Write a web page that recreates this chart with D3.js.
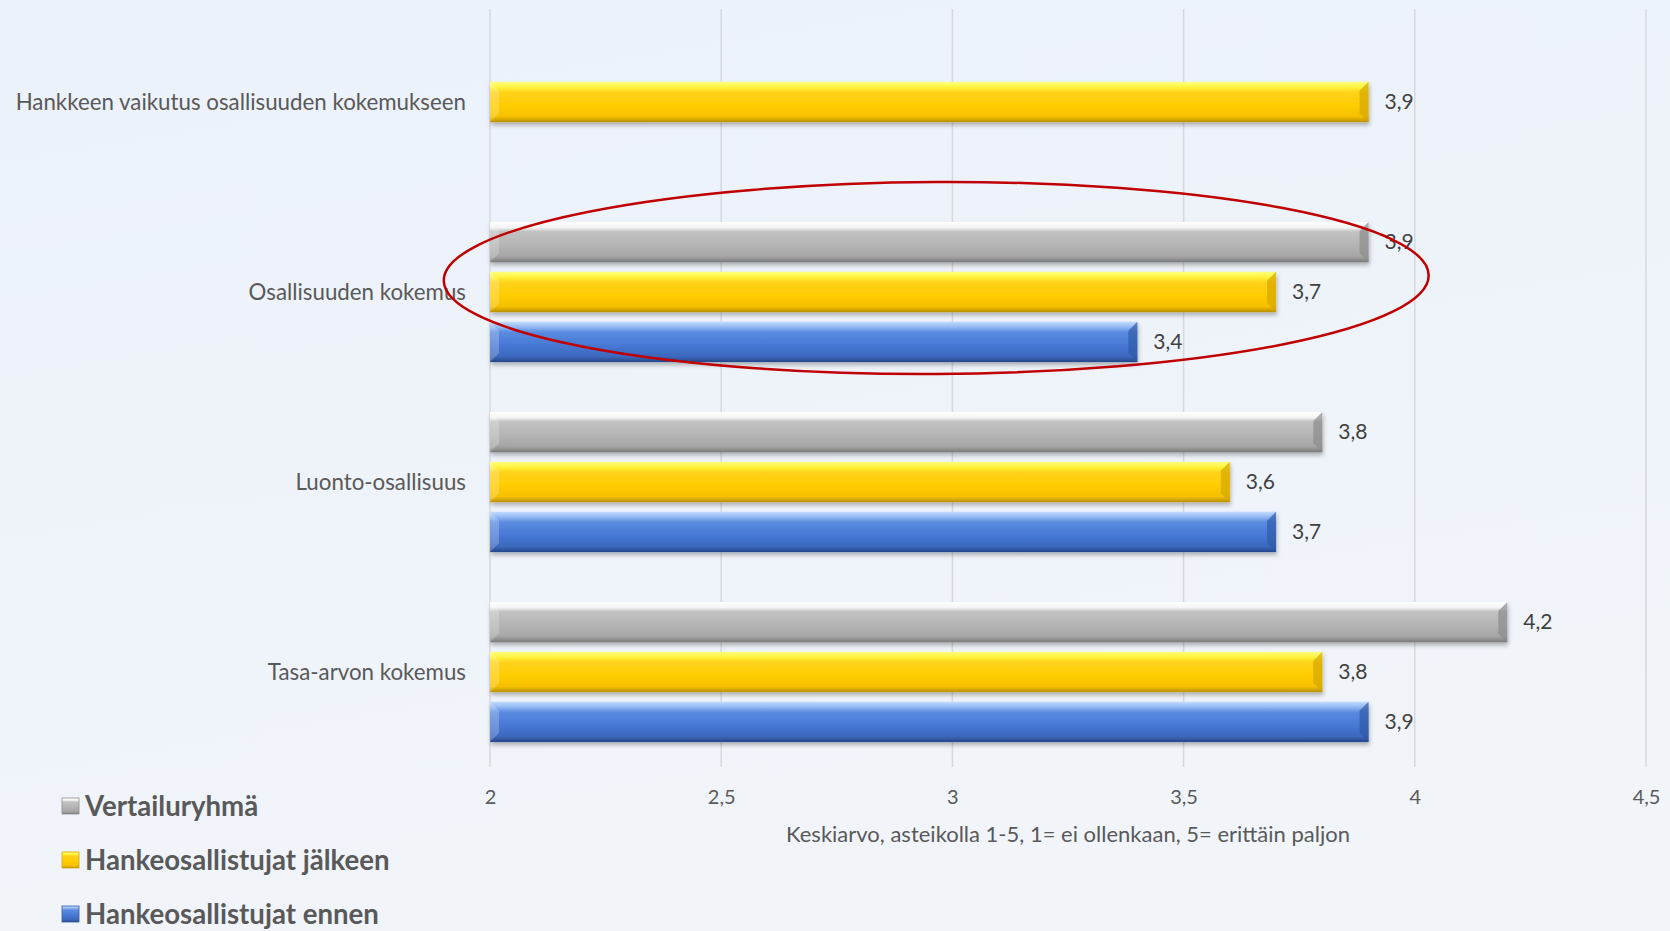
<!DOCTYPE html>
<html>
<head>
<meta charset="utf-8">
<script src="https://cdn.jsdelivr.net/npm/d3@7"></script>
<style>
  html, body { margin: 0; padding: 0; }
  body { width: 1670px; height: 931px; overflow: hidden; }
  svg { display: block; font-family: Lato, "Open Sans", sans-serif; }
</style>
</head>
<body>
<svg id="chart"></svg>
<script>
// categories top -> bottom
var categories = [
  "Hankkeen vaikutus osallisuuden kokemukseen",
  "Osallisuuden kokemus",
  "Luonto-osallisuus",
  "Tasa-arvon kokemus"
];
// series, drawn top -> bottom inside each category
var seriesNames = ["Vertailuryhmä", "Hankeosallistujat jälkeen", "Hankeosallistujat ennen"];
var vertailuryhma = [null, 3.9, 3.8, 4.2];
var jalkeen = [3.9, 3.7, 3.6, 3.8];
var ennen = [null, 3.4, 3.7, 3.9];
var xTicks = [2, 2.5, 3, 3.5, 4, 4.5];
var xTitle = "Keskiarvo, asteikolla 1-5, 1= ei ollenkaan, 5= erittäin paljon";

var W = 1670, H = 931;
var margin = { top: 7, right: 24, bottom: 164, left: 490 };

var svg = d3.select("#chart").attr("width", W).attr("height", H);
var defs = svg.append("defs");

// background
var bg = defs.append("linearGradient").attr("id", "bg")
  .attr("x1", 0).attr("y1", 0).attr("x2", 0.3).attr("y2", 1);
bg.append("stop").attr("offset", "0%").attr("stop-color", "#ecf2fa");
bg.append("stop").attr("offset", "50%").attr("stop-color", "#eef3fa");
bg.append("stop").attr("offset", "100%").attr("stop-color", "#f1f5fa");
svg.append("rect").attr("width", W).attr("height", H).attr("fill", "url(#bg)");

/*
Bar gradients (bevel look)
*/
var palette = [
  { id: "gGray", stops: [["0%", "#ffffff"], ["14%", "#f4f4f4"], ["24%", "#c2c2c2"], ["60%", "#b3b3b3"], ["85%", "#a6a6a6"], ["100%", "#7a7a7a"]], side: "#8c8c8c" },
  { id: "gYellow", stops: [["0%", "#ffff80"], ["14%", "#fff23a"], ["26%", "#ffd21a"], ["60%", "#ffcc00"], ["86%", "#f5c000"], ["100%", "#b88f00"]], side: "#d6a600" },
  { id: "gBlue", stops: [["0%", "#c4dcff"], ["14%", "#8fb7f2"], ["26%", "#5b8be0"], ["60%", "#4677d3"], ["86%", "#3c68bd"], ["100%", "#25478a"]], side: "#2f5aa6" }
];
palette.forEach(function (p) {
  var g = defs.append("linearGradient").attr("id", p.id)
    .attr("x1", 0).attr("y1", 0).attr("x2", 0).attr("y2", 1);
  p.stops.forEach(function (s) {
    g.append("stop").attr("offset", s[0]).attr("stop-color", s[1]);
  });
});

var shadow = defs.append("filter").attr("id", "shadow")
  .attr("x", "-5%").attr("y", "-20%").attr("width", "110%").attr("height", "160%");
shadow.append("feDropShadow").attr("dx", 1).attr("dy", 3).attr("stdDeviation", 2)
  .attr("flood-color", "#000").attr("flood-opacity", 0.28);

var width = W - margin.left - margin.right;
var height = H - margin.top - margin.bottom;

var g = svg.append("g").attr("transform", "translate(" + margin.left + "," + margin.top + ")");

var xScale = d3.scaleLinear().domain([2, 4.5]).range([0, width]);
var yScale = d3.scaleBand().domain(categories).range([0, height]).padding(0);
var ySub = d3.scaleBand().domain(d3.range(3)).range([0, yScale.bandwidth()])
  .paddingInner(0.19).paddingOuter(0.5);

// gridlines
g.append("g").selectAll("line").data(xTicks).enter().append("line")
  .attr("x1", (d) => xScale(d)).attr("x2", (d) => xScale(d))
  .attr("y1", 2).attr("y2", height)
  .attr("stroke", "#d6d8dc").attr("stroke-width", 1.5);

// x axis labels
var xAxis = d3.axisBottom(xScale).tickValues(xTicks).tickSize(0)
  .tickFormat((d) => String(d).replace(".", ","));
var gX = g.append("g").attr("transform", "translate(0," + height + ")").call(xAxis);
gX.select(".domain").remove();
gX.selectAll("text").attr("font-size", 20).attr("fill", "#595959")
  .attr("font-family", "Lato, sans-serif").attr("dy", "0").attr("y", 37);

g.append("text")
  .attr("x", width / 2).attr("y", height + 75)
  .attr("text-anchor", "middle").attr("font-size", 22).attr("fill", "#595959")
  .text(xTitle);

// category labels
g.append("g").selectAll("text").data(categories).enter().append("text")
  .attr("x", -24).attr("y", (d) => yScale(d) + yScale.bandwidth() / 2)
  .attr("dy", "0.35em").attr("text-anchor", "end")
  .attr("font-size", 22.3).attr("fill", "#595959")
  .text((d) => d);

// rows of bars
var rows = [];
[vertailuryhma, jalkeen, ennen].forEach(function (vals, s) {
  vals.forEach(function (v, i) {
    if (v != null) rows.push({ cat: categories[i], s: s, v: v });
  });
});

var bars = g.append("g").selectAll("g.bar").data(rows).enter().append("g").attr("class", "bar")
  .attr("transform", (d) => "translate(0," + (yScale(d.cat) + ySub(d.s)) + ")");

var bh = ySub.bandwidth();
bars.append("rect")
  .attr("x", 0).attr("y", 0)
  .attr("width", (d) => xScale(d.v) - xScale(2))
  .attr("height", bh)
  .attr("fill", (d) => "url(#" + palette[d.s].id + ")")
  .attr("filter", "url(#shadow)");

// bevel ends
var bev = 9;
bars.append("path")
  .attr("d", "M0,0 L" + bev + "," + bev + " L" + bev + "," + (bh - bev) + " L0," + bh + " Z")
  .attr("fill", "#ffffff").attr("opacity", 0.22);
bars.append("path")
  .attr("d", (d) => {
    var w = xScale(d.v) - xScale(2);
    return "M" + w + ",0 L" + (w - bev) + "," + bev + " L" + (w - bev) + "," + (bh - bev) + " L" + w + "," + bh + " Z";
  })
  .attr("fill", (d) => palette[d.s].side).attr("opacity", 0.7);

// value labels
bars.append("text")
  .attr("x", (d) => xScale(d.v) + 16).attr("y", bh / 2).attr("dy", "0.35em")
  .attr("font-size", 21).attr("fill", "#404040")
  .text((d) => String(d.v).replace(".", ","));

// annotation ellipse around "Osallisuuden kokemus"
var eLeft = xScale(1.9), eRight = xScale(4.03);
var eCat = categories[1];
var ecx = (eLeft + eRight) / 2, ecy = yScale(eCat) + yScale.bandwidth() / 2 - 14;
g.append("ellipse")
  .attr("cx", ecx).attr("cy", ecy)
  .attr("rx", (eRight - eLeft) / 2).attr("ry", 96)
  .attr("fill", "none").attr("stroke", "#c00000").attr("stroke-width", 2.5)
  .attr("transform", "rotate(-0.3," + ecx + "," + ecy + ")");

// legend
var legend = svg.append("g").attr("transform", "translate(62,806)");
var li = legend.selectAll("g").data(seriesNames).enter().append("g")
  .attr("transform", (d, i) => "translate(0," + i * 54 + ")");
li.append("rect").attr("x", 0).attr("y", -8).attr("width", 17).attr("height", 16)
  .attr("fill", (d, i) => "url(#" + palette[i].id + ")")
  .attr("stroke", (d, i) => palette[i].side).attr("stroke-width", 0.8);
li.append("text").attr("x", 23).attr("y", 0).attr("dy", "0.35em")
  .attr("font-size", 27.6).attr("font-weight", "bold").attr("fill", "#595959")
  .text((d) => d);
</script>
</body>
</html>
